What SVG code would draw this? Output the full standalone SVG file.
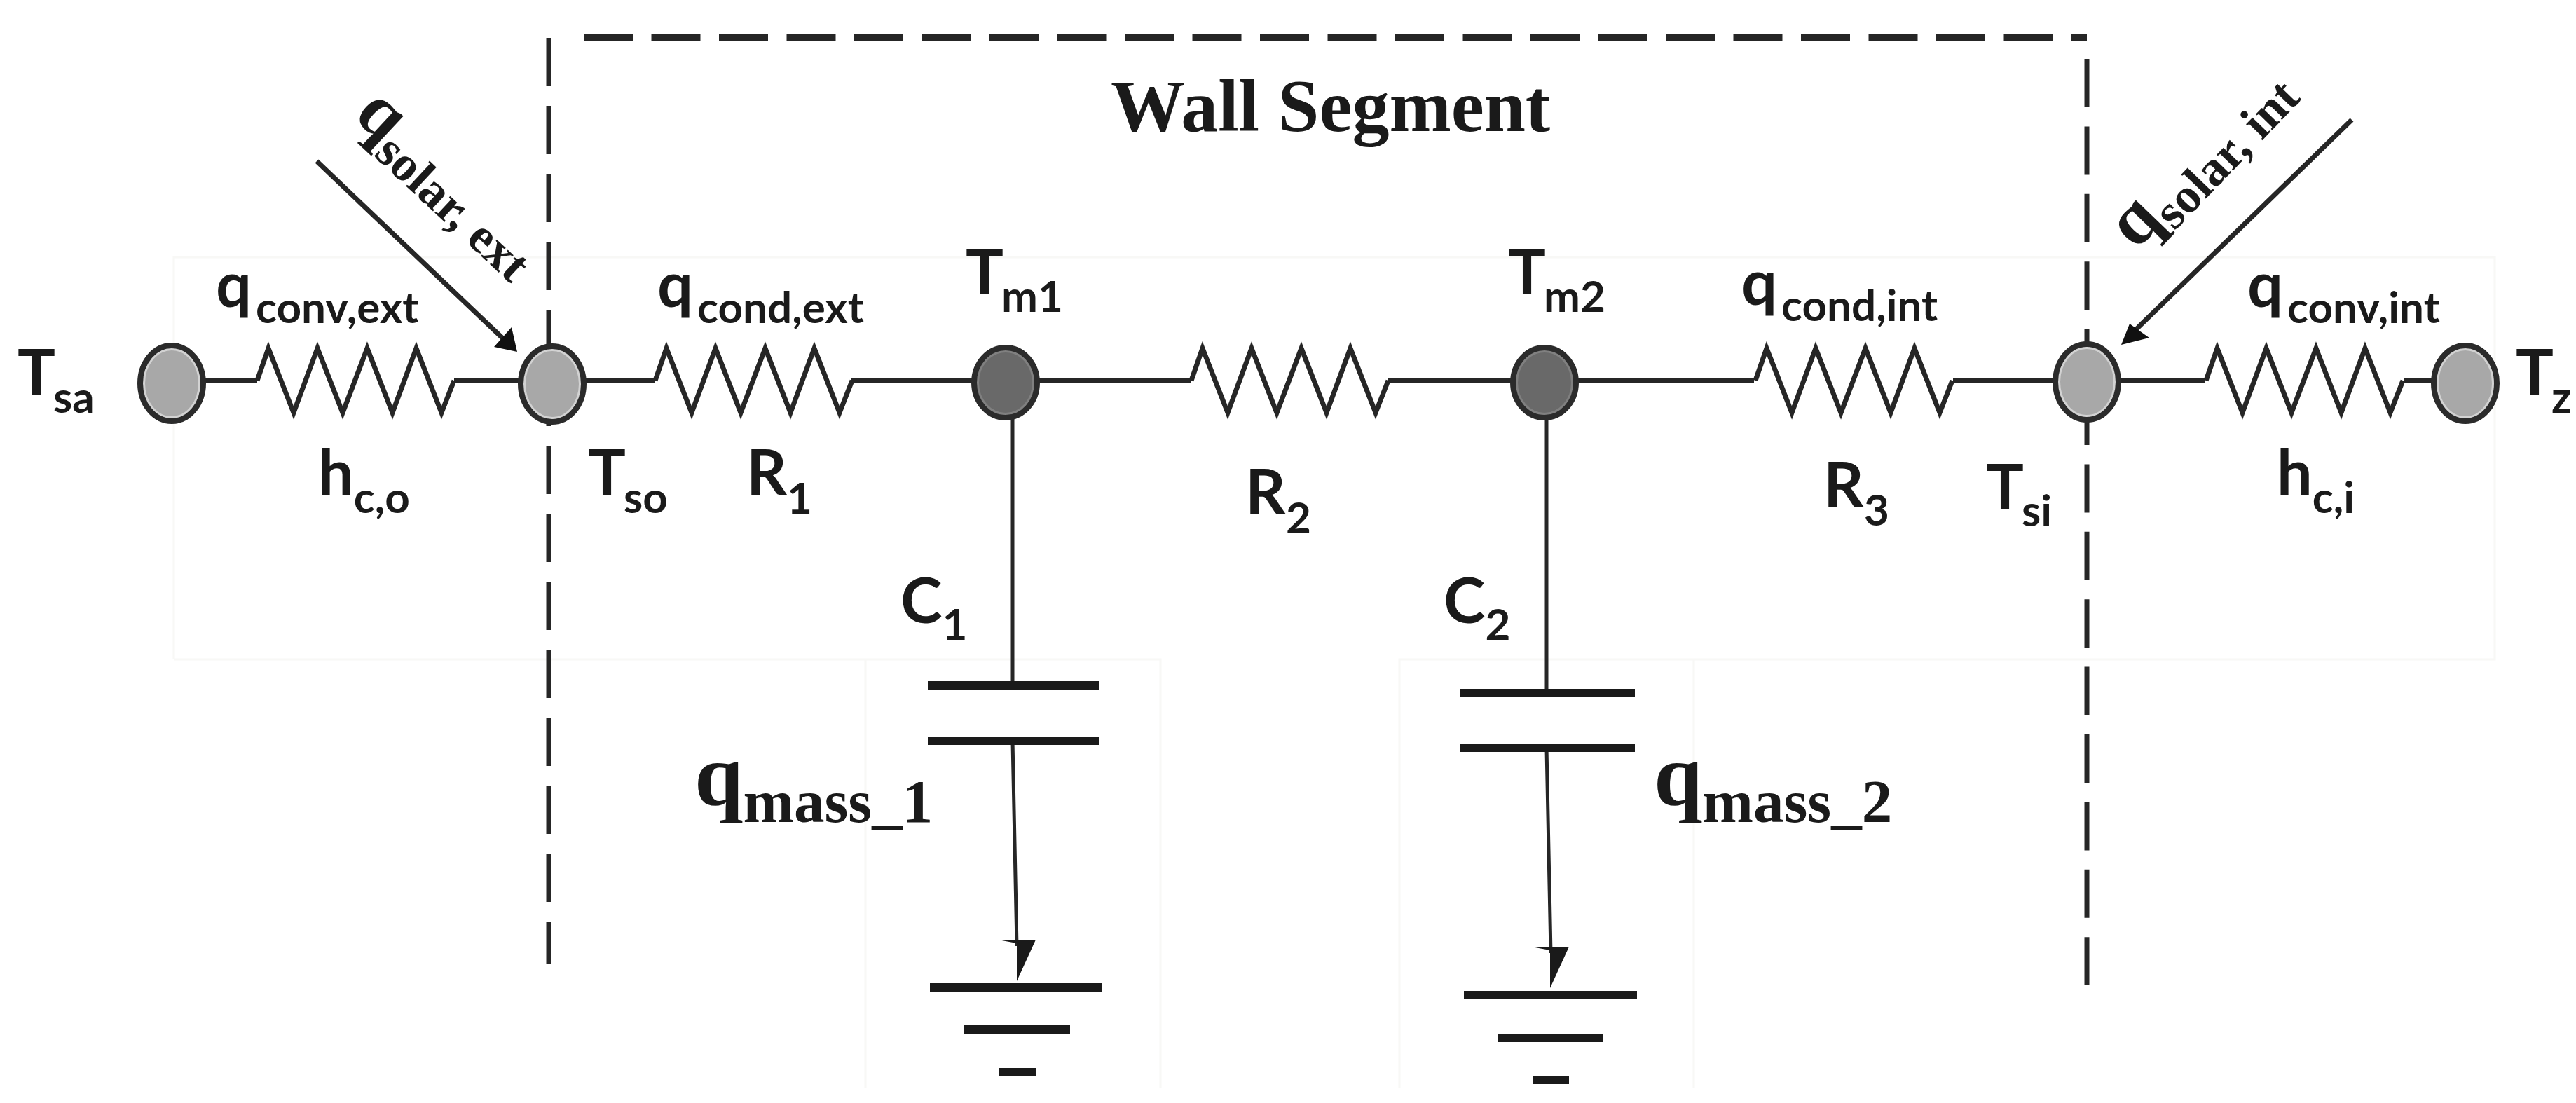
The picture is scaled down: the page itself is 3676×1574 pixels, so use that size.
<svg xmlns="http://www.w3.org/2000/svg" width="3676" height="1574" viewBox="0 0 3676 1574">
<style>
.wire{fill:none;stroke:#262626;stroke-width:7;stroke-linejoin:miter}
.plate{fill:none;stroke:#1a1a1a;stroke-width:12}
.thin{fill:none;stroke:#262626;stroke-width:5}
.dash{fill:none;stroke:#262626}
.lab{font-family:"Lato","Liberation Sans",sans-serif;font-weight:700;fill:#1a1a1a;font-size:90px}
.sub{font-size:62px}
.ser{font-family:"Liberation Serif","Times New Roman",serif;font-weight:700;fill:#1a1a1a}
.n1{fill:#a8a8a8;stroke:#d2d2d2;stroke-width:6}
.n2{fill:#696969;stroke:#808080;stroke-width:6}
.ring{fill:none;stroke:#2b2b2b;stroke-width:8}
</style>
<defs>
<polyline id="res" class="wire" points="0,0 16,-46 52,46 86,-46 122,46 157,-46 193,46 227,-46 263,46 281,0"/>
</defs>
<rect width="3676" height="1574" fill="#fff"/>
<path id="scan-edges" d="M248 941V367H3560V941H2417V1553M2417 941H1997V1553M1656 1553V941H1235V1553M1235 941H248" fill="none" stroke="#f8f8f6" stroke-width="3"/>
<g id="connectors">
<path class="dash" stroke-width="10" stroke-dasharray="70 26.5" d="M833 54H2978"/>
<path class="dash" stroke-width="7" stroke-dasharray="69 28" d="M783 54V1376"/>
<path class="dash" stroke-width="7" stroke-dasharray="69 27.4" d="M2978 84V1406"/>
<path class="wire" d="M292 543H367M648 543H935M1214 543H1700M1981 543H2503M2787 543H3146M3430 543H3472"/>
<use href="#res" x="367" y="543"/>
<use href="#res" x="935" y="543"/>
<use href="#res" x="1700" y="543"/>
<use href="#res" x="2505" y="543"/>
<use href="#res" x="3148" y="543"/>
<path class="thin" d="M1445 590V978M1445 1057L1451 1350M2207 590V989M2207 1067L2213 1360"/>
<polygon points="1424,1341 1478,1341 1451,1400 1451,1346" fill="#1a1a1a"/>
<polygon points="2185,1351 2239,1351 2212,1410 2212,1356" fill="#1a1a1a"/>
<path class="plate" d="M1324 978H1569M1324 1057H1569M1327 1409H1573M1375 1469H1527M1425 1530H1478M2084 989H2333M2084 1067H2333M2089 1420H2336M2137 1481H2288M2187 1541H2239"/>
<path class="wire" d="M452 230L724 489M3356 171L3040 478"/>
<polygon points="738,502 705,495 730,467" fill="#111"/>
<polygon points="3027,492 3039,462 3067,482" fill="#111"/>
</g>
<g id="node-tsa"><ellipse class="n1" cx="245" cy="547" rx="41" ry="50"/><ellipse class="ring" cx="245" cy="547" rx="45" ry="54"/></g>
<g id="node-tso"><ellipse class="n1" cx="788" cy="548" rx="41" ry="50"/><ellipse class="ring" cx="788" cy="548" rx="45" ry="54"/></g>
<g id="node-tm1"><ellipse class="n2" cx="1435" cy="546" rx="41" ry="46"/><ellipse class="ring" cx="1435" cy="546" rx="45" ry="50"/></g>
<g id="node-tm2"><ellipse class="n2" cx="2204" cy="546" rx="41" ry="46"/><ellipse class="ring" cx="2204" cy="546" rx="45" ry="50"/></g>
<g id="node-tsi"><ellipse class="n1" cx="2978" cy="545" rx="41" ry="50"/><ellipse class="ring" cx="2978" cy="545" rx="45" ry="54"/></g>
<g id="node-tz"><ellipse class="n1" cx="3518" cy="547" rx="41" ry="50"/><ellipse class="ring" cx="3518" cy="547" rx="45" ry="54"/></g>
<g id="labels">
<text class="ser" x="1585" y="187" font-size="106" fill="#333">Wall Segment</text>
<text class="lab" x="25" y="563">T<tspan class="sub" dy="26" dx="-3">sa</tspan></text>
<text class="lab" x="308" y="438">q<tspan class="sub" dy="23" dx="6">conv,ext</tspan></text>
<text class="lab" x="454" y="706">h<tspan class="sub" dy="26">c,o</tspan></text>
<text class="lab" x="839" y="706">T<tspan class="sub" dy="26" dx="-3">so</tspan></text>
<text class="lab" x="1065" y="706">R<tspan class="sub" dy="27">1</tspan></text>
<text class="lab" x="938" y="438">q<tspan class="sub" dy="23" dx="6">cond,ext</tspan></text>
<text class="lab" x="1378" y="420">T<tspan class="sub" dy="25" dx="-3">m1</tspan></text>
<text class="lab" x="2152" y="420">T<tspan class="sub" dy="25" dx="-3">m2</tspan></text>
<text class="lab" x="1777" y="734">R<tspan class="sub" dy="27">2</tspan></text>
<text class="lab" x="2485" y="435">q<tspan class="sub" dy="23" dx="6">cond,int</tspan></text>
<text class="lab" x="2602" y="724">R<tspan class="sub" dy="26">3</tspan></text>
<text class="lab" x="2834" y="727">T<tspan class="sub" dy="24" dx="-3">si</tspan></text>
<text class="lab" x="3207" y="438">q<tspan class="sub" dy="23" dx="6">conv,int</tspan></text>
<text class="lab" x="3249" y="706">h<tspan class="sub" dy="26">c,i</tspan></text>
<text class="lab" x="3590" y="563">T<tspan class="sub" dy="26" dx="-3">z</tspan></text>
<text class="lab" x="1285" y="889">C<tspan class="sub" dy="24">1</tspan></text>
<text class="lab" x="2060" y="889">C<tspan class="sub" dy="24">2</tspan></text>
<text class="ser" x="991" y="1148" font-size="125">q<tspan dy="25" font-size="87">mass_1</tspan></text>
<text class="ser" x="2360" y="1148" font-size="125">q<tspan dy="25" font-size="87">mass_2</tspan></text>
<text class="ser" transform="translate(503,167) rotate(43)" font-size="105">q<tspan dy="20" font-size="71">solar, ext</tspan></text>
<text class="ser" transform="translate(3048,358) rotate(-46)" font-size="105">q<tspan dy="20" font-size="71">solar, int</tspan></text>
</g>
</svg>
